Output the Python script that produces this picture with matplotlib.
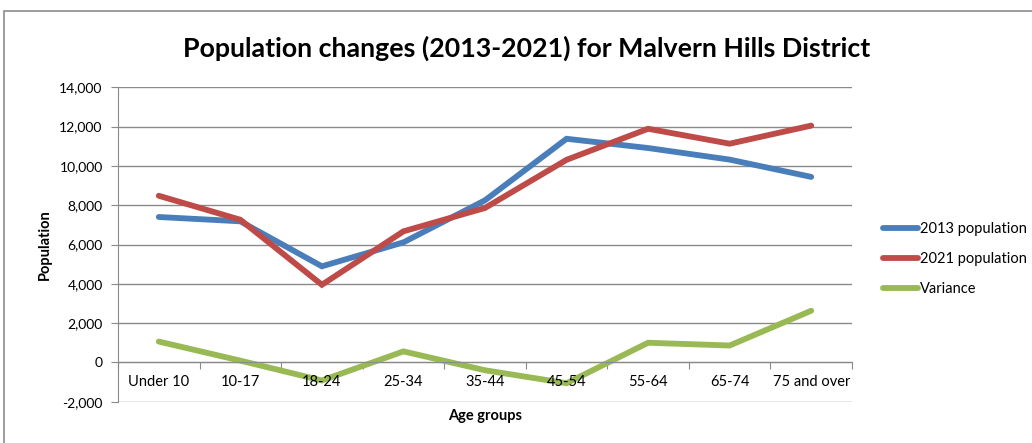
import matplotlib
matplotlib.use("Agg")
import matplotlib.pyplot as plt
from matplotlib.patches import Rectangle

categories = ["Under 10", "10-17", "18-24", "25-34", "35-44", "45-54", "55-64", "65-74", "75 and over"]
pop_2013 = [7400, 7180, 4890, 6110, 8250, 11380, 10910, 10320, 9440]
pop_2021 = [8480, 7260, 3950, 6670, 7860, 10310, 11890, 11130, 12050]
variance = [1060, 90, -920, 560, -400, -1060, 1000, 860, 2630]
yticks = list(range(-2000, 14001, 2000))

FONT = ["Lato", "DejaVu Sans"]
plt.rcParams["font.family"] = FONT

fig = plt.figure(figsize=(10.32, 4.43), dpi=100)
# outer chart border
fig.patches.append(Rectangle((4/1032, -0.1), 1.1, (443-11)/443 + 0.1, transform=fig.transFigure,
                             fill=False, edgecolor="#8c8c8c", linewidth=1.2))

ax = fig.add_axes([118/1032, (443-401.7)/443, 734/1032, 314.4/443])
x = list(range(len(categories)))
lw = 4.2
ax.plot(x, pop_2013, color="#4A7EBB", lw=lw, label="2013 population", solid_capstyle="round", solid_joinstyle="miter")
ax.plot(x, pop_2021, color="#BE4B48", lw=lw, label="2021 population", solid_capstyle="round", solid_joinstyle="miter")
ax.plot(x, variance, color="#98B954", lw=lw, label="Variance", solid_capstyle="round", solid_joinstyle="miter")

ax.set_xlim(-0.5, len(categories) - 0.5)
ax.set_ylim(-2000, 14000)
ax.set_yticks(yticks)
ax.set_yticklabels([f"{v:,}" for v in yticks], fontsize=10)
ax.yaxis.grid(True, color="#8a8a8a", lw=1.0)
ax.set_axisbelow(True)

for s in ["top", "right"]:
    ax.spines[s].set_visible(False)
ax.spines["left"].set_color("#8a8a8a")
ax.spines["bottom"].set_position(("data", 0))
ax.spines["bottom"].set_color("#8a8a8a")

ax.set_xticks([i - 0.5 for i in range(len(categories) + 1)])
ax.set_xticklabels([])
ax.tick_params(axis="x", which="major", direction="out", length=5, color="#8a8a8a")
ax.tick_params(axis="y", direction="out", length=5, color="#8a8a8a", pad=6)
# category labels drawn above the lines
for i, lab in enumerate(categories):
    ax.annotate(lab, xy=(i, 0), xytext=(0, -9), textcoords="offset points",
                ha="center", va="top", fontsize=10.5, zorder=10, annotation_clip=False)

fig.text(485/1032, 1 - 416/443, "Age groups", ha="center", va="center", fontsize=10.5, fontweight="bold")
fig.text(45/1032, 1 - 245/443, "Population", ha="center", va="center", rotation=90, fontsize=10.5, fontweight="bold")
fig.text(527/1032, 1 - 48/443, "Population changes (2013-2021) for Malvern Hills District",
         ha="center", va="center", fontsize=19.3, fontweight="bold")

leg = ax.legend(loc="center left", bbox_to_anchor=(870/1032, 1 - 259/443), bbox_transform=fig.transFigure,
                frameon=False, fontsize=10.5, handlelength=2.4, handletextpad=0.1, labelspacing=1.1)

fig.savefig("out.png", dpi=100)
